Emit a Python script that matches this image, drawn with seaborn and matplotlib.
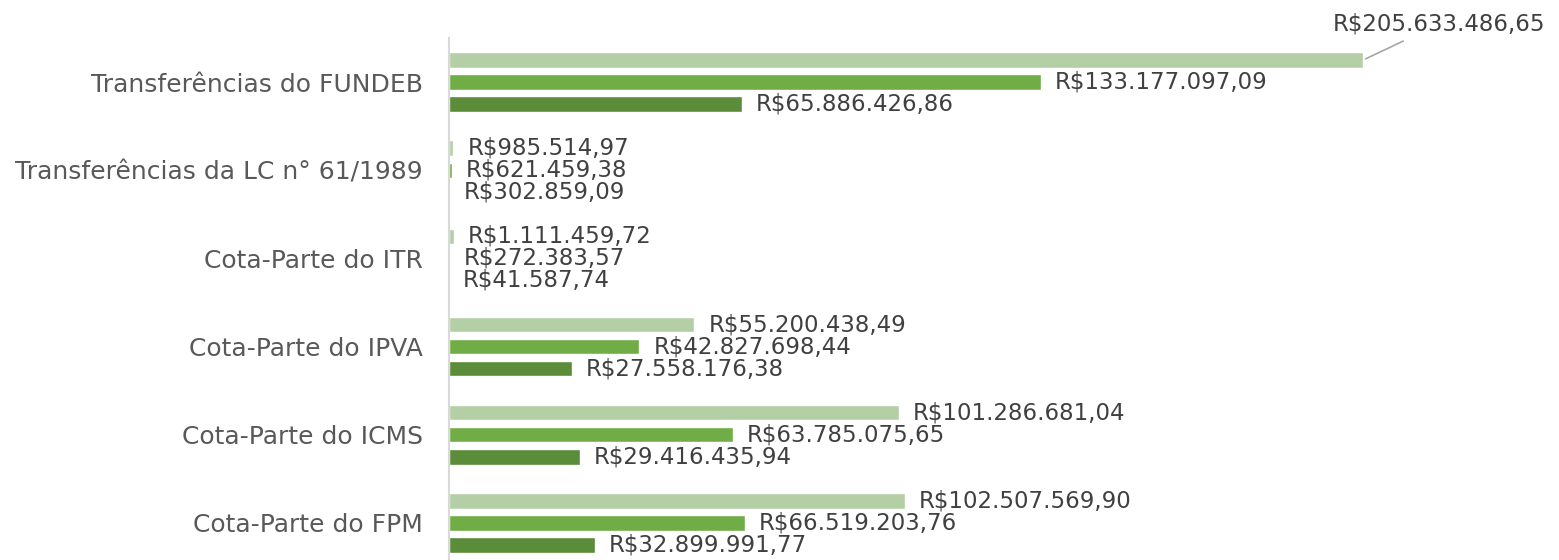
import numpy as np
import pandas as pd
import seaborn as sns
import matplotlib.pyplot as plt

sns.set_theme(style="white")
plt.rcParams['font.family'] = ['DejaVu Sans']

categorias = ["Transferências do FUNDEB", "Transferências da LC n° 61/1989", "Cota-Parte do ITR",
              "Cota-Parte do IPVA", "Cota-Parte do ICMS", "Cota-Parte do FPM"]
series = ["Série 3", "Série 2", "Série 1"]
serie3 = [205633486.65, 985514.97, 1111459.72, 55200438.49, 101286681.04, 102507569.90]
serie2 = [133177097.09, 621459.38, 272383.57, 42827698.44, 63785075.65, 66519203.76]
serie1 = [65886426.86, 302859.09, 41587.74, 27558176.38, 29416435.94, 32899991.77]
cores = ["#b4cfa5", "#70ad47", "#5a8c39"]

df = pd.DataFrame({
    "categoria": categorias * 3,
    "serie": [series[0]] * 6 + [series[1]] * 6 + [series[2]] * 6,
    "valor": serie3 + serie2 + serie1,
})

def brl(v):
    s = f"{v:,.2f}".replace(",", "X").replace(".", ",").replace("X", ".")
    return "R$" + s

fig = plt.figure(figsize=(15.59, 5.6), dpi=100)
ax = fig.add_axes([449 / 1559, -7 / 560, 1110 / 1559, 529 / 560])
sns.barplot(data=df, y="categoria", x="valor", hue="serie", hue_order=series, order=categorias,
            palette=cores, saturation=1, orient="h", width=0.75, gap=0.3, legend=False, ax=ax)
ax.set_xlim(0, 249.7e6)
ax.set_xlabel("")
ax.set_ylabel("")
ax.set_xticks([])
ax.tick_params(axis="y", length=0, pad=19, labelsize=18, labelcolor="#595959")
for s in ["top", "right", "bottom"]:
    ax.spines[s].set_visible(False)
ax.spines["left"].set_color("#d9d9d9")
ax.spines["left"].set_linewidth(1.5)

dados = [serie3, serie2, serie1]
for i, cont in enumerate(ax.containers):
    labels = [brl(v) for v in dados[i]]
    if i == 0:
        labels[0] = ""
    ax.bar_label(cont, labels=labels, padding=10, fontsize=16.5, color="#404040")

# rótulo deslocado da maior barra
p = ax.containers[0].patches[0]
ax.annotate(brl(serie3[0]), xy=(p.get_width(), p.get_y() + p.get_height() / 2),
            xytext=(55, 26), textcoords="offset points", ha="center", va="center",
            fontsize=16.5, color="#404040",
            arrowprops=dict(arrowstyle="-", color="#a6a6a6", lw=1.2, shrinkA=4, shrinkB=2))

plt.savefig("out.png", dpi=100)
